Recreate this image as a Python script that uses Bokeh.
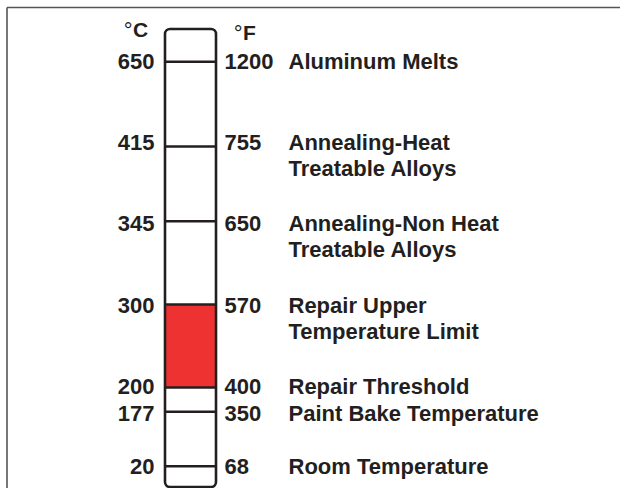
from bokeh.plotting import figure
from bokeh.models import Range1d, ColumnDataSource
from bokeh.core.properties import value
from bokeh.embed import file_html
from bokeh.resources import INLINE

# ---- data ----
celsius = [650, 415, 345, 300, 200, 177, 20]
fahrenheit = [1200, 755, 650, 570, 400, 350, 68]
label_line1 = ["Aluminum Melts", "Annealing-Heat", "Annealing-Non Heat",
               "Repair Upper", "Repair Threshold", "Paint Bake Temperature",
               "Room Temperature"]
label_line2 = ["", "Treatable Alloys", "Treatable Alloys",
               "Temperature Limit", "", "", ""]
repair_low_c = 200
repair_high_c = 300
unit_c = "C"
unit_f = "F"

# ---- layout (schematic positions, pixels) ----
W, H = 620, 488
level_y = [61.3, 146, 220.7, 304, 387, 411.3, 465.7]
text_y = [61, 142, 222.5, 305, 386, 412.5, 466]
line_gap = 26
tube_left, tube_right, tube_top, tube_bottom = 164.5, 215.5, 28.5, 486.5
x_c, x_f, x_lab = 154, 224, 288

FONT = value("Liberation Sans")
INK = "#231F20"
RED = "#EE3231"

p = figure(width=W, height=H, output_backend="svg", toolbar_location=None,
           x_range=Range1d(0, W), y_range=Range1d(H, 0),
           min_border=0, outline_line_color=None)
p.axis.visible = False
p.grid.visible = False
p.background_fill_color = "white"
p.border_fill_color = "white"

# frame (top and left)
p.segment(x0=[6.5, 6.5], y0=[7, 7], x1=[6.5, W], y1=[H, 7],
          line_color="#555555", line_width=1.6)

# red repair band
i_hi = celsius.index(repair_high_c)
i_lo = celsius.index(repair_low_c)
p.quad(left=[tube_left], right=[tube_right], top=[level_y[i_hi]],
       bottom=[level_y[i_lo]], fill_color=RED, line_color=None)

src = ColumnDataSource(dict(
    y=level_y, ty=text_y, ty2=[t + line_gap for t in text_y],
    c=[str(v) for v in celsius], f=[str(v) for v in fahrenheit],
    l1=label_line1, l2=label_line2,
    x0=[tube_left] * len(level_y), x1=[tube_right] * len(level_y),
    xc=[x_c] * len(level_y), xf=[x_f] * len(level_y), xl=[x_lab] * len(level_y)))

# level lines
p.segment(x0="x0", y0="y", x1="x1", y1="y", source=src,
          line_color=INK, line_width=2.6)

# tube outline
p.quad(left=[tube_left], right=[tube_right], top=[tube_top], bottom=[tube_bottom],
       fill_color=None, line_color=INK, line_width=2.6, border_radius=5)

common = dict(source=src, text_font=FONT, text_font_size="22px",
              text_font_style="bold", text_color=INK, text_baseline="alphabetic")
p.text(x="xc", y="ty", text="c", text_align="right", **common)
p.text(x="xf", y="ty", text="f", text_align="left", **common)
p.text(x="xl", y="ty", text="l1", text_align="left", **common)
p.text(x="xl", y="ty2", text="l2", text_align="left", **common)

# unit headers
p.text(x=[132.5, 242.5], y=[28.5, 31.5], text=[unit_c, unit_f], text_font=FONT,
       text_font_size="21px", text_font_style="bold", text_color=INK,
       text_align="left", text_baseline="alphabetic")
p.text(x=[132, 242], y=[29.5, 32.5], text=["\u00b0", "\u00b0"], text_font=FONT,
       text_font_size="22px", text_font_style="normal", text_color=INK,
       text_align="right", text_baseline="alphabetic")

open("out.html", "w").write(file_html(p, INLINE))
